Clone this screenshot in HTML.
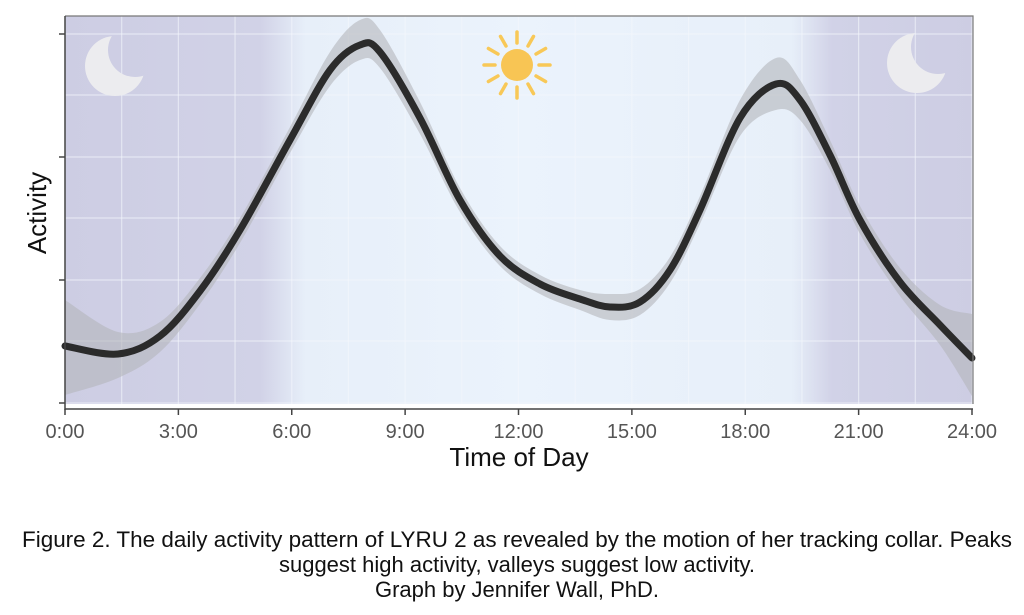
<!DOCTYPE html>
<html><head><meta charset="utf-8"><style>
body{margin:0;background:#fff;width:1024px;height:610px;overflow:hidden;font-family:"Liberation Sans",sans-serif}
</style></head><body>
<svg width="1024" height="610" viewBox="0 0 1024 610" xmlns="http://www.w3.org/2000/svg">
<defs>
<linearGradient id="bg" x1="65" x2="973" y1="0" y2="0" gradientUnits="userSpaceOnUse">
<stop offset="0" stop-color="#cdcde3"/>
<stop offset="0.215" stop-color="#d1d2e7"/>
<stop offset="0.265" stop-color="#e7eff9"/>
<stop offset="0.5" stop-color="#ebf3fc"/>
<stop offset="0.80" stop-color="#e7eff9"/>
<stop offset="0.845" stop-color="#d1d2e7"/>
<stop offset="1" stop-color="#cdcde3"/>
</linearGradient>
<mask id="m1"><rect x="0" y="0" width="1024" height="610" fill="#fff"/><circle cx="135" cy="50" r="27" fill="#000"/></mask>
<mask id="m2"><rect x="0" y="0" width="1024" height="610" fill="#fff"/><circle cx="938" cy="47" r="27" fill="#000"/></mask>
</defs>
<rect x="65" y="16" width="908" height="388" fill="url(#bg)"/>
<g stroke="#f4f6fb" stroke-opacity="0.6" stroke-width="1.2">
<line x1="65" x2="973" y1="95" y2="95"/><line x1="65" x2="973" y1="218" y2="218"/><line x1="65" x2="973" y1="341" y2="341"/>
<line x1="65" x2="973" y1="34" y2="34"/><line x1="65" x2="973" y1="157" y2="157"/><line x1="65" x2="973" y1="280" y2="280"/><line x1="65" x2="973" y1="403" y2="403"/>
</g>
<g id="vg" stroke="#f4f6fb" stroke-opacity="0.6" stroke-width="1.2"></g>
<circle cx="115" cy="66" r="30" fill="#ececef" mask="url(#m1)"/>
<circle cx="917" cy="63" r="30" fill="#ececef" mask="url(#m2)"/>
<g stroke="#f8c857" stroke-width="3.5" stroke-linecap="round" id="rays"></g>
<circle cx="517" cy="65" r="16" fill="#f8c554"/>
<path id="band" fill="#b4b5ba" fill-opacity="0.6"/>
<path id="line" fill="none" stroke="#2b2b2b" stroke-width="7" stroke-linecap="round"/>
<path d="M65,16 H973 V404" fill="none" stroke="#777" stroke-width="1.2"/>
<line x1="65" x2="65" y1="16" y2="410" stroke="#444" stroke-width="1.5"/>
<line x1="65" x2="973" y1="409" y2="409" stroke="#444" stroke-width="1.5"/>
<g stroke="#444" stroke-width="1.5" id="ticks">
<line x1="59" x2="65" y1="34" y2="34"/><line x1="59" x2="65" y1="157" y2="157"/><line x1="59" x2="65" y1="280" y2="280"/><line x1="59" x2="65" y1="403" y2="403"/>
</g>
<g font-size="20" fill="#555" text-anchor="middle" id="xl"></g>
<text x="519" y="466" font-size="26" text-anchor="middle" fill="#111">Time of Day</text>
<text transform="translate(46,213) rotate(-90)" font-size="26" text-anchor="middle" fill="#111">Activity</text>
<g font-size="22" fill="#111" text-anchor="middle">
<text x="517" y="547" textLength="990" lengthAdjust="spacingAndGlyphs">Figure 2. The daily activity pattern of LYRU 2 as revealed by the motion of her tracking collar. Peaks</text>
<text x="517" y="572">suggest high activity, valleys suggest low activity.</text>
<text x="517" y="597">Graph by Jennifer Wall, PhD.</text>
</g>
</svg>
<script>
var ns="http://www.w3.org/2000/svg";
function el(p,t,a){var e=document.createElementNS(ns,t);for(var k in a)e.setAttribute(k,a[k]);p.appendChild(e);return e;}
var x0=65,dx=(972-65)/16;
var vg=document.getElementById('vg'),tk=document.getElementById('ticks'),xl=document.getElementById('xl');
for(var i=0;i<=16;i++){var x=x0+i*dx;el(vg,'line',{x1:x,x2:x,y1:16,y2:404});
 if(i%2==0){el(tk,'line',{x1:x,x2:x,y1:409,y2:415});var t=el(xl,'text',{x:x,y:438});t.textContent=(i*1.5)+':00';}}
var r=document.getElementById('rays');
for(var i=0;i<12;i++){var a=i*Math.PI/6;el(r,'line',{x1:517+22*Math.cos(a),y1:65+22*Math.sin(a),x2:517+33*Math.cos(a),y2:65+33*Math.sin(a)});}
var P=[[65,346,300,395],[118,354,332,378],[160,336,322,352],[200,291,278,304],[240,230,218,243],[290,140,127,153],[330,70,52,86],[360,45,20,60],[380,52,30,68],[420,118,102,134],[460,200,188,212],[500,256,246,266],[540,284,275,294],[580,299,290,310],[610,307,294,320],[640,302,289,315],[670,270,257,283],[700,210,196,224],[740,118,100,136],[776,84,58,110],[800,100,80,120],[830,155,140,170],[860,220,206,234],[900,282,268,296],[940,325,305,345],[972,358,314,396]];
function cr(pts){var d='M'+pts[0][0]+','+pts[0][1];for(var i=0;i<pts.length-1;i++){var p0=pts[i-1]||pts[i],p1=pts[i],p2=pts[i+1],p3=pts[i+2]||p2;
d+=' C'+(p1[0]+(p2[0]-p0[0])/6)+','+(p1[1]+(p2[1]-p0[1])/6)+' '+(p2[0]-(p3[0]-p1[0])/6)+','+(p2[1]-(p3[1]-p1[1])/6)+' '+p2[0]+','+p2[1];}return d;}
var mid=P.map(function(p){return [p[0],p[1]]}),up=P.map(function(p){return [p[0],p[2]]}),lo=P.map(function(p){return [p[0],p[3]]}).reverse();
document.getElementById('line').setAttribute('d',cr(mid));
document.getElementById('band').setAttribute('d',cr(up)+' L'+cr(lo).slice(1)+' Z');
</script>
</body></html>
